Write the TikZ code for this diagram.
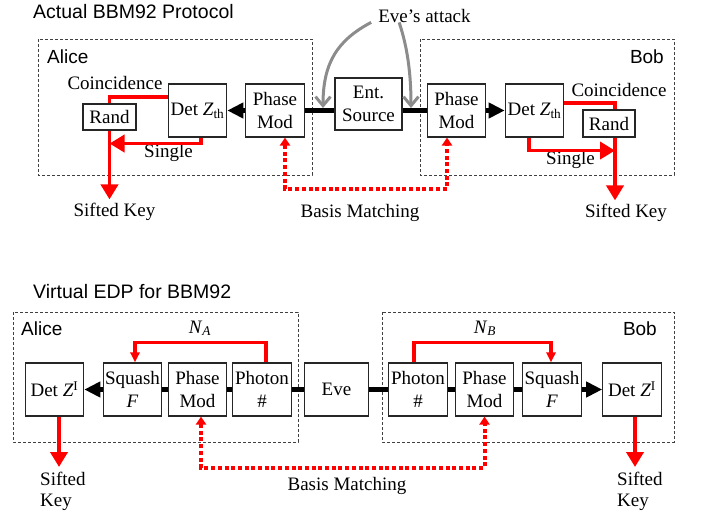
\documentclass[tikz,border=0pt]{standalone}
\usepackage{fontspec}
\setmainfont{Liberation Serif}
\setsansfont{Liberation Sans}
\usepackage{xcolor}
\usepackage{tikz}
\usetikzlibrary{arrows.meta}

\begin{document}
\begin{tikzpicture}[x=1pt,y=-1pt,
    every node/.style={font=\fontsize{19}{23}\selectfont, inner sep=0pt},
    blk/.style={draw=black!85, line width=1.1pt, minimum height=53pt, minimum width=58.5pt, align=center},
    frame/.style={draw=black!75, line width=0.8pt, dash pattern=on 3pt off 2pt},
    title/.style={font=\sffamily\fontsize{19.5}{22}\selectfont, anchor=base west},
    party/.style={font=\sffamily\fontsize{19}{22}\selectfont},
    lbl/.style={anchor=base},
    sig/.style={line width=4.8pt},
    sigarr/.style={line width=4.8pt, -{Triangle[length=16pt, width=15pt]}},
    key/.style={red, line width=3.5pt},
    keyarr/.style={red, line width=3.8pt, -{Triangle[length=15pt, width=17pt]}},
    basis/.style={red, line width=4pt, dash pattern=on 4pt off 2.7pt,
        {Triangle[length=8pt, width=10pt]}-{Triangle[length=8pt, width=10pt]}},
    eve/.style={black!45, line width=3pt, -{Straight Barb[length=9pt, width=15pt]}}
  ]
    \useasboundingbox (0,0) rectangle (704,514);

    % 上半部分：实际协议
    \node[title] (t1) at (33,18) {Actual BBM92 Protocol};
    \draw[frame] (38,39) rectangle (312,175);
    \draw[frame] (420,39) rectangle (674,175);
    \node[party, anchor=base west] (alice1) at (47,63) {Alice};
    \node[party, anchor=base east] (bob1) at (664,63) {Bob};

    % 放置方框
    \node[blk] (aph) at (275,110.5) {Phase\\Mod};
    \node[blk] (adet) at (197.5,110.5) {Det \textit{Z}\textsubscript{th}};
    \node[blk, minimum width=53pt, minimum height=26pt] (arand) at (109.5,117) {Rand};
    \node[blk, minimum width=67pt, minimum height=52pt] (src) at (368.5,104) {Ent.\\Source};
    \node[blk] (bph) at (456.5,110.5) {Phase\\Mod};
    \node[blk] (bdet) at (534.5,110.5) {Det \textit{Z}\textsubscript{th}};
    \node[blk, minimum width=52pt, minimum height=27pt] (brand) at (609,123.5) {Rand};

    % 黑色光路
    \draw[sigarr] (aph) -- (adet);
    \draw[sig] (aph.east) -- (aph.east -| src.west);
    \draw[sig] (src.east |- bph.west) -- (bph.west);
    \draw[sigarr] (bph) -- (bdet);

    % Alice 的红色输出
    \node[lbl] (acoin) at (115,89.5) {Coincidence};
    \node[lbl] (asing) at (168.5,157.5) {Single};
    \node[lbl] (akey) at (114.5,216) {Sifted Key};
    \draw[key] ([yshift=13.5pt]adet.west) -| (arand.north);
    \draw[keyarr] ([xshift=3.5pt]adet.south) |- ([yshift=-13pt]arand.south);
    \draw[keyarr] (arand.south) -- ([yshift=3pt]arand.south |- akey.north);

    % Bob 的红色输出
    \node[lbl] (bcoin) at (619,96.5) {Coincidence};
    \node[lbl] (bsing) at (570.5,164) {Single};
    \node[lbl] (bkey) at (626,217) {Sifted Key};
    \draw[key] ([yshift=7.5pt]bdet.east) -| ([xshift=6pt]brand.north);
    \draw[keyarr] ([xshift=-5.5pt]bdet.south) |- ([xshift=6pt,yshift=-13pt]brand.south);
    \draw[keyarr] ([xshift=6pt]brand.south) -- ([xshift=6pt,yshift=3pt]brand.south |- bkey.north);

    % 基矢比对
    \node[lbl] (bm1) at (360,217) {Basis Matching};
    \draw[basis] ([xshift=10pt]aph.south) -- ++(0,51) -| ([xshift=-9.5pt]bph.south);

    % Eve 的攻击
    \node[lbl] (eve1) at (424.5,22) {Eve’s attack};
    \coordinate (hitL) at (323,108);
    \coordinate (hitR) at (411,108);
    \draw[eve] ([xshift=-7pt]eve1.south west) .. controls (338,40) and (323,62) .. (hitL);
    \draw[eve] ([xshift=21pt]eve1.south west) .. controls (405,40) and (411,65) .. (hitR);

    % 下半部分：虚拟 EDP
    \node[title] (t2) at (33,298) {Virtual EDP for BBM92};
    \draw[frame] (13,312) rectangle (298,442);
    \draw[frame] (382,312) rectangle (674,442);
    \node[party, anchor=base west] (alice2) at (21,335) {Alice};
    \node[party, anchor=base east] (bob2) at (657,335) {Bob};

    \node[blk] (vdetA) at (54.5,389.5) {Det \textit{Z}\textsuperscript{I}};
    \node[blk] (vsqA) at (132.5,389.5) {Squash\\\textit{F}};
    \node[blk] (vphA) at (197.5,389.5) {Phase\\Mod};
    \node[blk] (vnumA) at (262,389.5) {Photon\\\#};
    \node[blk, minimum width=64pt] (veve) at (336.5,389.5) {Eve};
    \node[blk] (vnumB) at (418,389.5) {Photon\\\#};
    \node[blk] (vphB) at (484.5,389.5) {Phase\\Mod};
    \node[blk] (vsqB) at (552,389.5) {Squash\\\textit{F}};
    \node[blk] (vdetB) at (632,389.5) {Det \textit{Z}\textsuperscript{I}};

    % 黑色光路
    \draw[sigarr] (vsqA) -- (vdetA);
    \draw[sig] (vphA) -- (vsqA);
    \draw[sig] (vnumA) -- (vphA);
    \draw[sig] (veve) -- (vnumA);
    \draw[sig] (veve) -- (vnumB);
    \draw[sig] (vnumB) -- (vphB);
    \draw[sig] (vphB) -- (vsqB);
    \draw[sigarr] (vsqB) -- (vdetB);

    % 光子数
    \node[lbl] (na) at (200,333) {\textit{N}\textsubscript{\textit{A}}};
    \node[lbl] (nb) at (485,333) {\textit{N}\textsubscript{\textit{B}}};
    \draw[key, -{Triangle[length=10pt, width=9pt]}] ([xshift=4pt]vnumA.north) -- ++(0,-20) -| ([xshift=2.5pt]vsqA.north);
    \draw[key, -{Triangle[length=10pt, width=9pt]}] ([xshift=-4pt]vnumB.north) -- ++(0,-20) -| ([xshift=-1pt]vsqB.north);

    % 筛选后的密钥
    \node[anchor=north west, align=left, font=\fontsize{19}{21}\selectfont] (vkeyA) at (40,472) {Sifted\\Key};
    \node[anchor=north west, align=left, font=\fontsize{19}{21}\selectfont] (vkeyB) at (617,472) {Sifted\\Key};
    \draw[keyarr] ([xshift=4.5pt]vdetA.south) -- ([xshift=4.5pt,yshift=5pt]vdetA.south |- vkeyA.north);
    \draw[keyarr] ([xshift=3pt]vdetB.south) -- ([xshift=3pt,yshift=5pt]vdetB.south |- vkeyB.north);

    % 基矢比对
    \node[lbl] (bm2) at (347,490) {Basis Matching};
    \draw[basis] ([xshift=3.5pt]vphA.south) -- ++(0,51) -| (vphB.south);
\end{tikzpicture}
\end{document}
